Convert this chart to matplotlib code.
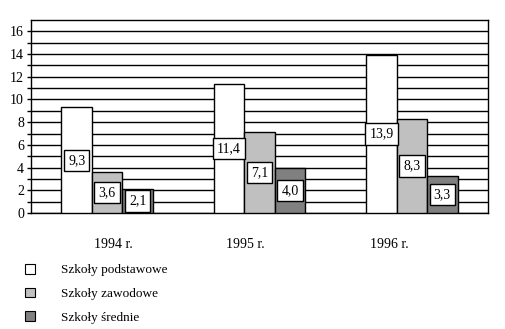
import matplotlib
matplotlib.use("Agg")
import matplotlib.pyplot as plt
import numpy as np
from matplotlib.patches import Patch

years = ["1994 r.", "1995 r.", "1996 r."]
series_names = ["Szkoły podstawowe", "Szkoły zawodowe", "Szkoły średnie"]
podstawowe = [9.3, 11.4, 13.9]
zawodowe = [3.6, 7.1, 8.3]
srednie = [2.1, 4.0, 3.3]
y_ticks = [0, 2, 4, 6, 8, 10, 12, 14, 16]

colors = ["#ffffff", "#c0c0c0", "#808080"]
label_shift = [0.04, -0.09, -0.15]  # layout: x-label offsets in category units

plt.rcParams['font.family'] = ['Liberation Serif', 'DejaVu Serif']
plt.rcParams['font.size'] = 10

fig = plt.figure(figsize=(5.06, 3.29), dpi=100)
ax = fig.add_axes([31/506, 1-213/329, (488-31)/506, (213-20)/329])

x = np.arange(len(years))
w = 0.2
for i, (vals, c) in enumerate(zip([podstawowe, zawodowe, srednie], colors)):
    pos = x + (i - 1) * w
    ax.bar(pos, vals, width=w, color=c, edgecolor='black', linewidth=1.0, zorder=3)
    for px, v in zip(pos, vals):
        ax.text(px, v / 2, f"{v:.1f}".replace('.', ','), ha='center', va='center', fontsize=10, zorder=4,
                bbox=dict(boxstyle='square,pad=0.3', fc='white', ec='black', lw=1.0))

ax.set_xlim(-0.5, 2.5)
ax.set_ylim(0, 17)
ax.set_yticks(y_ticks)
ax.set_yticklabels([str(t) for t in y_ticks])
ax.set_yticks(np.arange(1, 17, 2), minor=True)
ax.grid(axis='y', which='both', color='black', linewidth=1.0, zorder=0)
ax.set_axisbelow(True)
ax.tick_params(axis='y', which='both', length=3, width=1, direction='out', pad=2, labelsize=10)
ax.set_xticks(x + np.array(label_shift))
ax.set_xticklabels(years)
ax.tick_params(axis='x', length=0, pad=18, labelsize=10)
for s in ax.spines.values():
    s.set_linewidth(1.0)
    s.set_color('black')

handles = [Patch(facecolor=c, edgecolor='black', linewidth=0.8) for c in colors]
fig.legend(handles, series_names, loc='upper left', bbox_to_anchor=(25/506, 1-264/329),
           frameon=False, handlelength=0.75, handleheight=0.75, handletextpad=2.0,
           labelspacing=0.85, fontsize=9.5, borderaxespad=0, borderpad=0)

fig.savefig("out.png", dpi=100)
